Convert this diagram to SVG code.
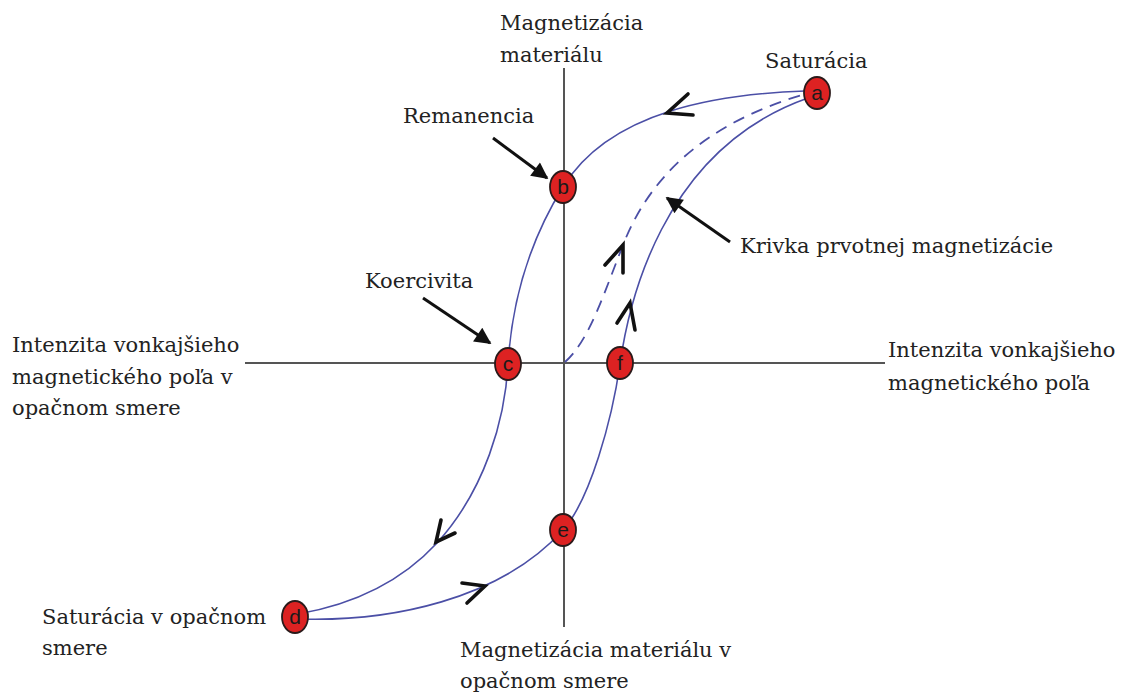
<svg xmlns="http://www.w3.org/2000/svg" width="1129" height="699" viewBox="0 0 1129 699">
<style>
.lbl{font-family:"DejaVu Serif","Liberation Serif",serif;font-size:21px;fill:#222}
.axis{stroke:#555;stroke-width:2;fill:none}
.curve{stroke:#4b4fa6;stroke-width:1.6;fill:none}
.dash{stroke:#4b4fa6;stroke-width:1.8;fill:none;stroke-dasharray:12 8}
.chev{stroke:#111;stroke-width:3.6;fill:none;stroke-linecap:round;stroke-linejoin:miter}
.ptr{stroke:#111;stroke-width:3;fill:none}
.node ellipse{fill:#dd2222;stroke:#2a1a1a;stroke-width:1.8}
.node text{font-family:"Liberation Sans",Arial,sans-serif;font-size:21px;fill:#1a1a1a;text-anchor:middle}
</style>
<defs>
<marker id="ah" viewBox="0 0 10 10" refX="9" refY="5" markerWidth="7" markerHeight="5.5" orient="auto" markerUnits="strokeWidth">
<path d="M0,0 L10,5 L0,10 Z" fill="#111"/>
</marker>
</defs>
<rect width="1129" height="699" fill="#fff"/>
<g id="axes">
<line class="axis" x1="564" y1="68" x2="564" y2="627"/>
<line class="axis" x1="245" y1="363" x2="885" y2="363"/>
</g>
<g id="connectors">
<path id="upper-branch" class="curve" d="M805,91 C720,94 610,110 563,187 C530,240 512,300 508,364 C505,420 485,490 437,543 C400,583 350,605 298,614"/>
<path id="lower-branch" class="curve" d="M298,619 C390,622 500,600 563,530 C590,500 612,420 620,364 C628,308 660,150 808,98"/>
<path id="initial-curve" class="dash" d="M565,362 C590,340 605,290 625,240 C650,180 700,125 805,94"/>
<polyline class="chev" points="688,94 667,113 693,115"/>
<polyline class="chev" points="441,520 436,542 455,533"/>
<polyline class="chev" points="462,583 485,586 467,603"/>
<polyline class="chev" points="617,323 630,303 635,330"/>
<polyline class="chev" points="605,265 623,245 623,273"/>
<line class="ptr" x1="493" y1="138" x2="547" y2="178" marker-end="url(#ah)"/>
<line class="ptr" x1="423" y1="298" x2="490" y2="343" marker-end="url(#ah)"/>
<line class="ptr" x1="730" y1="242" x2="667" y2="198" marker-end="url(#ah)"/>
</g>
<g id="node-a" class="node"><ellipse cx="817" cy="93" rx="13" ry="16"/><text x="817" y="100">a</text></g>
<g id="node-b" class="node"><ellipse cx="563" cy="187" rx="13" ry="16"/><text x="563" y="194">b</text></g>
<g id="node-c" class="node"><ellipse cx="508" cy="364" rx="13" ry="16"/><text x="508" y="371">c</text></g>
<g id="node-f" class="node"><ellipse cx="620" cy="363" rx="13" ry="16"/><text x="620" y="370">f</text></g>
<g id="node-e" class="node"><ellipse cx="563" cy="530" rx="13" ry="16"/><text x="563" y="537">e</text></g>
<g id="node-d" class="node"><ellipse cx="295" cy="617" rx="13" ry="16"/><text x="295" y="624">d</text></g>
<g id="labels">
<text class="lbl" x="500" y="30">Magnetizácia</text>
<text class="lbl" x="500" y="62">materiálu</text>
<text class="lbl" x="765" y="68">Saturácia</text>
<text class="lbl" x="403" y="123">Remanencia</text>
<text class="lbl" x="365" y="288">Koercivita</text>
<text class="lbl" x="740" y="253">Krivka prvotnej magnetizácie</text>
<text class="lbl" x="12" y="352">Intenzita vonkajšieho</text>
<text class="lbl" x="12" y="384">magnetického poľa v</text>
<text class="lbl" x="12" y="415">opačnom smere</text>
<text class="lbl" x="888" y="357">Intenzita vonkajšieho</text>
<text class="lbl" x="888" y="390">magnetického poľa</text>
<text class="lbl" x="42" y="624">Saturácia v opačnom</text>
<text class="lbl" x="42" y="655">smere</text>
<text class="lbl" x="460" y="657">Magnetizácia materiálu v</text>
<text class="lbl" x="460" y="688">opačnom smere</text>
</g>
</svg>
